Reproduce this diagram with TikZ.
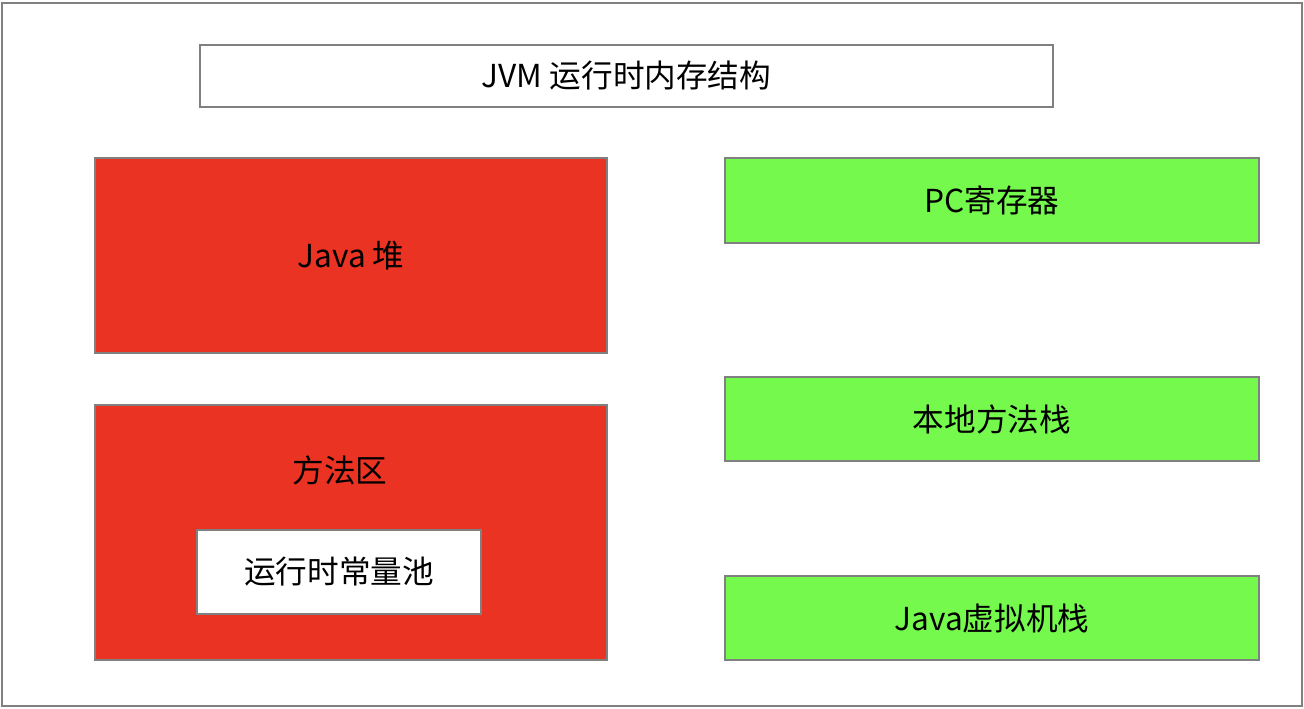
\documentclass[tikz,border=0pt]{standalone}
\usepackage{fontspec}
\setmainfont{Noto Sans CJK SC}
\usepackage{tikz}
\usetikzlibrary{positioning}
\definecolor{heapred}{HTML}{EA3323}
\definecolor{stackgreen}{HTML}{75F94C}
\definecolor{edgegray}{HTML}{808080}
\tikzstyle{box} = [draw=edgegray, line width=1.1pt, inner sep=0pt, font=\fontsize{18pt}{21pt}\selectfont]
\tikzstyle{shared} = [box, fill=heapred]
\tikzstyle{private} = [box, fill=stackgreen, minimum width=10.68cm, minimum height=1.69cm]

\begin{document}
\begin{tikzpicture}[x=0.02cm,y=-0.02cm]
    \useasboundingbox (0,0) rectangle (1304,708);
    \draw [edgegray, line width=1.4pt] (2,3) rectangle (1302,706);
    \node [box, fill=white, minimum width=17.06cm, minimum height=1.24cm] (title) at (626.5,76) {JVM 运行时内存结构};
    % thread shared
    \node [shared, minimum width=10.24cm, minimum height=3.9cm] (heap) at (351,255.5) {Java 堆};
    \node [shared, minimum width=10.24cm, minimum height=5.1cm] (method) at (351,532.5) {};
    \node [font=\fontsize{18pt}{21pt}\selectfont] (methodlabel) at (340,470) {方法区};
    \node [box, fill=white, minimum width=5.68cm, minimum height=1.68cm] (pool) at (339,572) {运行时常量池};
    % thread private
    \node [private] (pc) at (992,200.5) {PC寄存器};
    \node [private] (native) at (992,419) {本地方法栈};
    \node [private] (vmstack) at (992,618) {Java虚拟机栈};
\end{tikzpicture}
\end{document}
